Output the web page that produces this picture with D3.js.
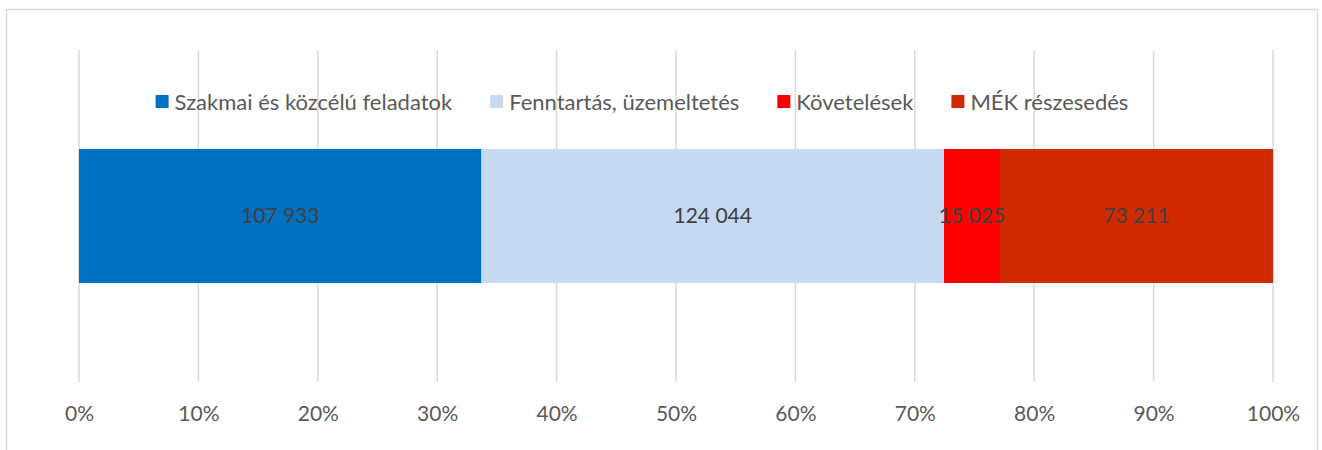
<!DOCTYPE html>
<html>
<head>
<meta charset="utf-8">
<script src="https://cdn.jsdelivr.net/npm/d3@7"></script>
<style>
    body { margin: 0; background: #fff; }
    svg { display: block; font-family: Lato, "Open Sans", sans-serif; }
</style>
</head>
<body>
<svg id="chart" width="1322" height="450"></svg>
<script>
// data
const seriesNames = ['Szakmai és közcélú feladatok', 'Fenntartás, üzemeltetés', 'Követelések', 'MÉK részesedés'];
const seriesValues = [107933, 124044, 15025, 73211];
const seriesColors = ['#0070C0', '#C6D9F0', '#FF0000', '#D22A00'];
const tickValues = [0, 0.1, 0.2, 0.3, 0.4, 0.5, 0.6, 0.7, 0.8, 0.9, 1];

const svg = d3.select('#chart');
const fontSize = '21px';

// chart area border (bottom runs off the picture)
svg.append('rect')
    .attr('x', 6.5).attr('y', 9.5)
    .attr('width', 1311).attr('height', 460)
    .attr('fill', 'none').attr('stroke', '#d9d9d9').attr('stroke-width', 1.5);

const x = d3.scaleLinear().domain([0, 1]).range([79, 1273]);

// gridlines
svg.append('g')
    .selectAll('line')
    .data(tickValues)
    .enter()
    .append('line')
    .attr('x1', d => x(d)).attr('x2', d => x(d))
    .attr('y1', 50).attr('y2', 382)
    .attr('stroke', '#d9d9d9').attr('stroke-width', 1.5);

// axis labels
const axis = d3.axisBottom(x).tickValues(tickValues).tickFormat(d3.format('.0%')).tickSize(0).tickPadding(0);
const axisG = svg.append('g').attr('transform', 'translate(0,406)').call(axis);
axisG.select('.domain').remove();
axisG.selectAll('text')
    .attr('fill', '#595959')
    .style('font-size', fontSize)
    .style('font-family', 'Lato, "Open Sans", sans-serif');

// stacked shares
const total = d3.sum(seriesValues);
let acc = 0;
const segments = seriesValues.map((v, i) => {
    const s = { name: seriesNames[i], value: v, color: seriesColors[i], x0: acc / total };
    acc += v;
    s.x1 = acc / total;
    return s;
});

const barTop = 149, barH = 134;

svg.append('g')
    .selectAll('rect')
    .data(segments)
    .enter()
    .append('rect')
    .attr('x', d => x(d.x0))
    .attr('width', d => x(d.x1) - x(d.x0))
    .attr('y', barTop)
    .attr('height', barH)
    .attr('fill', d => d.color);

const fmt = v => d3.format(',')(v).replace(/,/g, ' ');

svg.append('g')
    .selectAll('text')
    .data(segments)
    .enter()
    .append('text')
    .attr('x', d => (x(d.x0) + x(d.x1)) / 2)
    .attr('y', barTop + barH / 2)
    .attr('dy', '0.35em')
    .attr('text-anchor', 'middle')
    .attr('fill', '#404040')
    .style('font-size', fontSize)
    .text(d => fmt(d.value));

// legend, flowed and centred
const legend = svg.append('g');
const items = legend.selectAll('g')
    .data(segments)
    .enter()
    .append('g');

items.append('rect')
    .attr('width', 13).attr('height', 13)
    .attr('y', -7)
    .attr('fill', d => d.color);

items.append('text')
    .attr('x', 19)
    .attr('dy', '0.35em')
    .attr('fill', '#595959')
    .style('font-size', '22px')
    .text(d => d.name);

let lx = 0;
const gap = 38;
items.each(function() {
    const g = d3.select(this);
    g.attr('transform', `translate(${lx},0)`);
    lx += 19 + g.select('text').node().getComputedTextLength() + gap;
});
const legendW = lx - gap;
legend.attr('transform', `translate(${642 - legendW / 2},102)`);
</script>
</body>
</html>
